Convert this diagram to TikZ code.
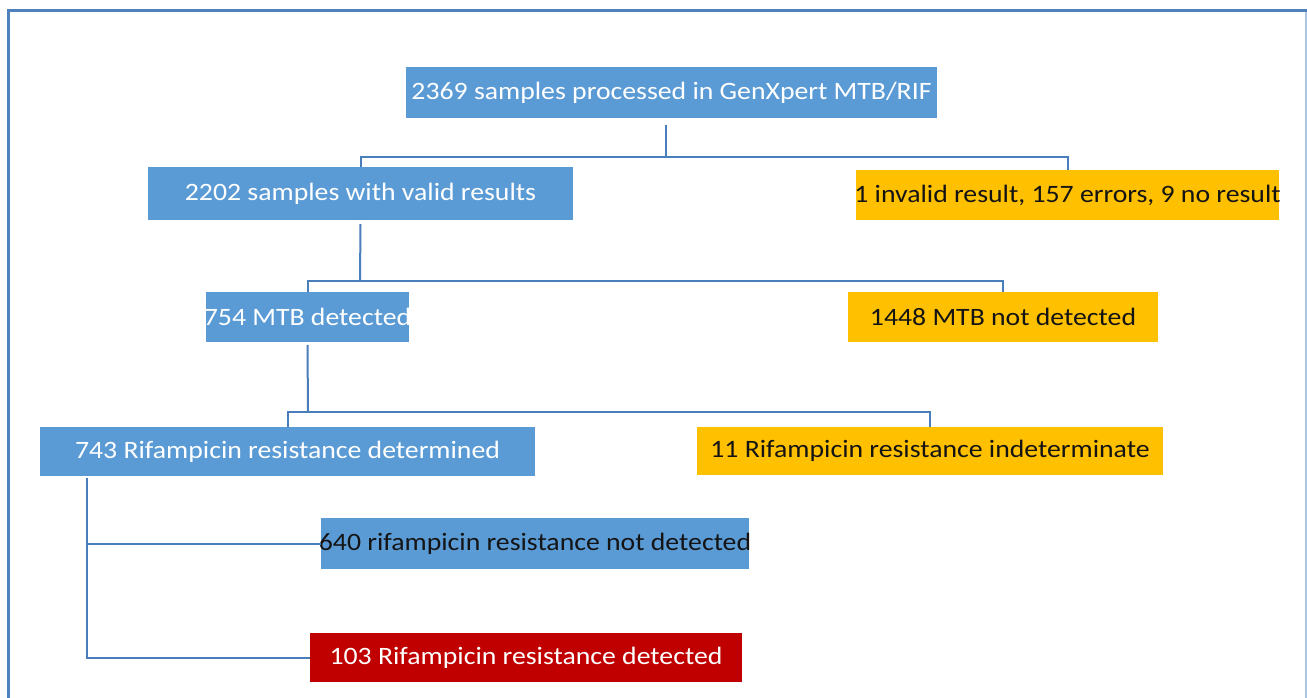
\documentclass[tikz,border=0pt]{standalone}
\usepackage{fontspec}
\setmainfont[FakeStretch=1.11]{Carlito}
\usetikzlibrary{calc}
\definecolor{boxblue}{RGB}{91,155,213}
\definecolor{boxorange}{RGB}{255,192,0}
\definecolor{boxred}{RGB}{192,0,0}
\definecolor{linkblue}{RGB}{74,126,187}
\definecolor{framedark}{RGB}{79,129,189}
\definecolor{framelight}{RGB}{169,196,228}
\definecolor{ink}{RGB}{20,20,20}
% text of a box is centred and never widens the box
\newcommand\flowtext[1]{\makebox[0pt]{#1}}
\tikzset{
  flowbox/.style={rectangle, inner sep=0pt, outer sep=0pt, draw=none,
    font=\fontsize{25}{29}\selectfont},
  bluebox/.style={flowbox, fill=boxblue, text=white},
  blueinkbox/.style={flowbox, fill=boxblue, text=ink},
  orangebox/.style={flowbox, fill=boxorange, text=ink},
  redbox/.style={flowbox, fill=boxred, text=white},
  link/.style={draw=linkblue, line width=2pt},
}
\begin{document}
\begin{tikzpicture}[x=1pt, y=-1pt]
  \useasboundingbox (0,0) rectangle (1307,698);
  % page frame
  \draw[framedark, line width=3pt] (8,698) -- (8,11) -- (1307,11);
  \draw[framelight, line width=1.5pt] (1306,12) -- (1306,698);

  % boxes
  \node[bluebox, minimum width=531pt, minimum height=51pt] (top) at (671.5,92.5)
    {\flowtext{2369 samples processed in GenXpert MTB/RIF}};
  \node[bluebox, minimum width=425pt, minimum height=53pt] (valid) at (360.5,193.5)
    {\flowtext{2202 samples with valid results}};
  \node[orangebox, minimum width=423pt, minimum height=50pt] (invalid) at (1067.5,195)
    {\flowtext{1 invalid result, 157 errors, 9 no result}};
  \node[bluebox, minimum width=203pt, minimum height=50pt] (mtb) at (307.5,317)
    {\flowtext{754 MTB detected}};
  \node[orangebox, minimum width=310pt, minimum height=50pt] (nomtb) at (1003,317)
    {\flowtext{1448 MTB not detected}};
  \node[bluebox, minimum width=495pt, minimum height=49pt] (det) at (287.5,451.5)
    {\flowtext{743 Rifampicin resistance determined}};
  \node[orangebox, minimum width=466pt, minimum height=48pt] (indet) at (930,451)
    {\flowtext{11 Rifampicin resistance indeterminate}};
  \node[blueinkbox, minimum width=428pt, minimum height=51pt] (notdet) at (535,543.5)
    {\flowtext{640 rifampicin resistance not detected}};
  \node[redbox, minimum width=432pt, minimum height=49pt] (rdet) at (526,657.5)
    {\flowtext{103 Rifampicin resistance detected}};

  % junction points of the tree
  \coordinate (j1) at (666,157);
  \coordinate (j2) at (360,281);
  \coordinate (j3) at (308,412);
  \coordinate (j4) at (87,478);

  % connectors
  \draw[link] ($(top.south)+(-5.5,7)$) -- (j1);
  \draw[link] (valid.north) |- (j1) -| (invalid.north);
  \draw[link] ($(valid.south)+(0,4)$) -- (j2);
  \draw[link] (mtb.north) |- (j2) -| (nomtb.north);
  \draw[link] ($(mtb.south)+(0,3)$) -- (j3);
  \draw[link] (det.north) |- (j3) -| (indet.north);
  \draw[link] (j4) |- (notdet.west);
  \draw[link] (j4) |- (rdet.west);
\end{tikzpicture}
\end{document}
